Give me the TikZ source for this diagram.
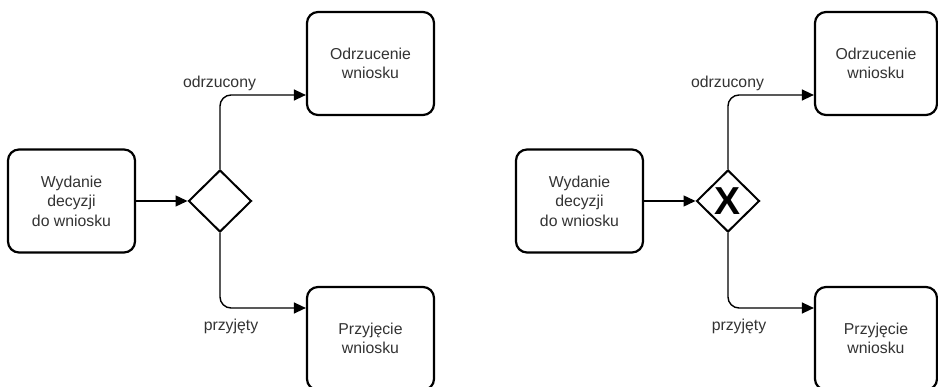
\documentclass[tikz,border=0pt]{standalone}
\usepackage{fontspec}
\setmainfont{Liberation Sans}
\usetikzlibrary{shapes.geometric,arrows.meta}
\tikzset{
  task/.style={draw=black, line width=2.2pt, rounded corners=11pt, fill=white,
    minimum width=127pt, minimum height=103pt, align=center, inner sep=0pt,
    text=black!80, font=\fontsize{15.8}{19.5}\selectfont},
  gateway/.style={draw=black, line width=2pt, diamond, shape aspect=1,
    minimum width=63pt, minimum height=62pt, inner sep=0pt},
  flow/.style={line width=1.4pt, rounded corners=11pt,
    -{Triangle[length=12pt,width=11pt]}},
  flowlabel/.style={text=black!80, font=\fontsize{15.8}{19}\selectfont, inner sep=0pt},
  xmark/.style={font=\fontsize{39}{39}\selectfont\bfseries, inner sep=0pt}
}
\begin{document}
\begin{tikzpicture}[x=1pt,y=-1pt]
\clip (0,0) rectangle (938,387);
\fill[white] (0,0) rectangle (938,387);
% two variants of the same decision: plain gateway and exclusive (X) gateway
\foreach \dx/\id/\tw in {0/a/127,508/b/122}{
  \node[task] (src\id) at (71.5+\dx,201) {Wydanie\\decyzji\\do wniosku};
  \node[gateway] (gw\id) at (220+\dx,201) {};
  \node[task, minimum width=\tw pt] (rej\id) at (307+\dx+\tw/2,63.5) {Odrzucenie\\wniosku};
  \node[task, minimum width=\tw pt] (acc\id) at (307+\dx+\tw/2,338.5) {Przyjęcie\\wniosku};
  \draw[flow] (src\id.east) -- (gw\id.west);
  \draw[flow] (gw\id.north) |- (rej\id.west |- 0,95);
  \draw[flow] (gw\id.south) |- (acc\id.west |- 0,308);
  \node[flowlabel] (lr\id) at (219.5+\dx,83) {odrzucony};
  \node[flowlabel] (la\id) at (231+\dx,326) {przyjęty};
}
\node[xmark] (xb) at (gwb.center) {X};
\end{tikzpicture}
\end{document}
